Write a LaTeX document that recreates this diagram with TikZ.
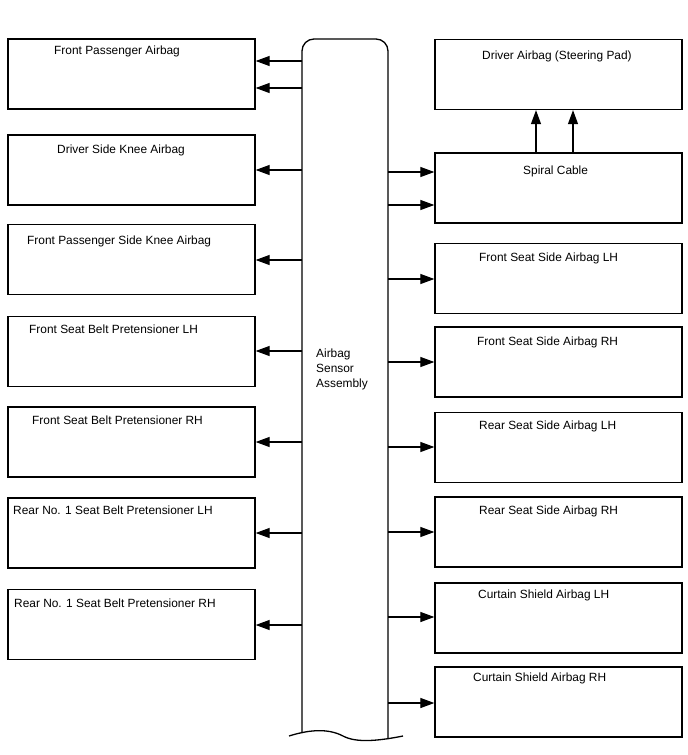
\documentclass[tikz,border=0pt]{standalone}
\usepackage{fontspec}
\setmainfont{Liberation Sans}
\usetikzlibrary{arrows.meta}
\begin{document}
\begin{tikzpicture}[x=1pt,y=-1pt,
  box/.style={draw, line width=1.3pt, inner sep=0pt, minimum width=247pt, minimum height=70pt},
  lbl/.style={anchor=base west, inner sep=0pt, font=\fontsize{11.9}{15}\selectfont},
  arr/.style={line width=1.2pt, -{Triangle[length=14pt,width=10pt]}},
  barline/.style={line width=1.3pt}
]
\useasboundingbox (0,0) rectangle (688,755);

% central bar
\coordinate (barL) at (302,0);
\coordinate (barR) at (388,0);
\draw[barline, rounded corners=12pt] (302,733) -- (302,39) -- (388,39) -- (388,739);
\draw[barline] (289,736) .. controls (305,731) and (326,727) .. (343,736)
  .. controls (356,743) and (378,741) .. (403,736);
\node[lbl, anchor=north west, align=left] (bartext) at (316,349) {Airbag\\Sensor\\Assembly};

% left boxes
\node[box] (L1) at (131.5,74) {};
\node[box] (L2) at (131.5,170) {};
\node[box] (L3) at (131.5,259.5) {};
\node[box] (L4) at (131.5,351.5) {};
\node[box] (L5) at (131.5,442) {};
\node[box] (L6) at (131.5,533) {};
\node[box] (L7) at (131.5,624.5) {};

\node[lbl] (tL1) at (54,54) {Front Passenger Airbag};
\node[lbl] (tL2) at (57,153) {Driver Side Knee Airbag};
\node[lbl] (tL3) at (27,244) {Front Passenger Side Knee Airbag};
\node[lbl] (tL4) at (29,333) {Front Seat Belt Pretensioner LH};
\node[lbl] (tL5) at (32,424) {Front Seat Belt Pretensioner RH};
\node[lbl] (tL6) at (13,514) {Rear No. 1 Seat Belt Pretensioner LH};
\node[lbl] (tL7) at (14,607) {Rear No. 1 Seat Belt Pretensioner RH};

% right boxes
\node[box] (R1) at (558.5,74.5) {};
\node[box] (R2) at (558.5,188) {};
\node[box] (R3) at (558.5,278.5) {};
\node[box] (R4) at (558.5,362) {};
\node[box] (R5) at (558.5,447.5) {};
\node[box] (R6) at (558.5,532) {};
\node[box] (R7) at (558.5,618) {};
\node[box] (R8) at (558.5,702) {};

\node[lbl] (tR1) at (482,59) {Driver Airbag (Steering Pad)};
\node[lbl] (tR2) at (523,174) {Spiral Cable};
\node[lbl] (tR3) at (479,261) {Front Seat Side Airbag LH};
\node[lbl] (tR4) at (477,345) {Front Seat Side Airbag RH};
\node[lbl] (tR5) at (479,429) {Rear Seat Side Airbag LH};
\node[lbl] (tR6) at (479,514) {Rear Seat Side Airbag RH};
\node[lbl] (tR7) at (478,598) {Curtain Shield Airbag LH};
\node[lbl] (tR8) at (473,681) {Curtain Shield Airbag RH};

% left arrows
\draw[arr] (barL |- 0,61) -- (L1.east |- 0,61);
\draw[arr] (barL |- 0,88) -- (L1.east |- 0,88);
\draw[arr] (barL |- 0,170) -- (L2.east |- 0,170);
\draw[arr] (barL |- 0,260) -- (L3.east |- 0,260);
\draw[arr] (barL |- 0,351) -- (L4.east |- 0,351);
\draw[arr] (barL |- 0,442) -- (L5.east |- 0,442);
\draw[arr] (barL |- 0,533) -- (L6.east |- 0,533);
\draw[arr] (barL |- 0,625) -- (L7.east |- 0,625);

% right arrows
\draw[arr] (barR |- 0,172) -- (R2.west |- 0,172);
\draw[arr] (barR |- 0,205) -- (R2.west |- 0,205);
\draw[arr] (barR |- 0,279) -- (R3.west |- 0,279);
\draw[arr] (barR |- 0,362) -- (R4.west |- 0,362);
\draw[arr] (barR |- 0,447) -- (R5.west |- 0,447);
\draw[arr] (barR |- 0,532) -- (R6.west |- 0,532);
\draw[arr] (barR |- 0,617) -- (R7.west |- 0,617);
\draw[arr] (barR |- 0,703) -- (R8.west |- 0,703);

% spiral cable to driver airbag
\draw[arr] (R2.north -| 536,0) -- (R1.south -| 536,0);
\draw[arr] (R2.north -| 573,0) -- (R1.south -| 573,0);
\end{tikzpicture}
\end{document}
